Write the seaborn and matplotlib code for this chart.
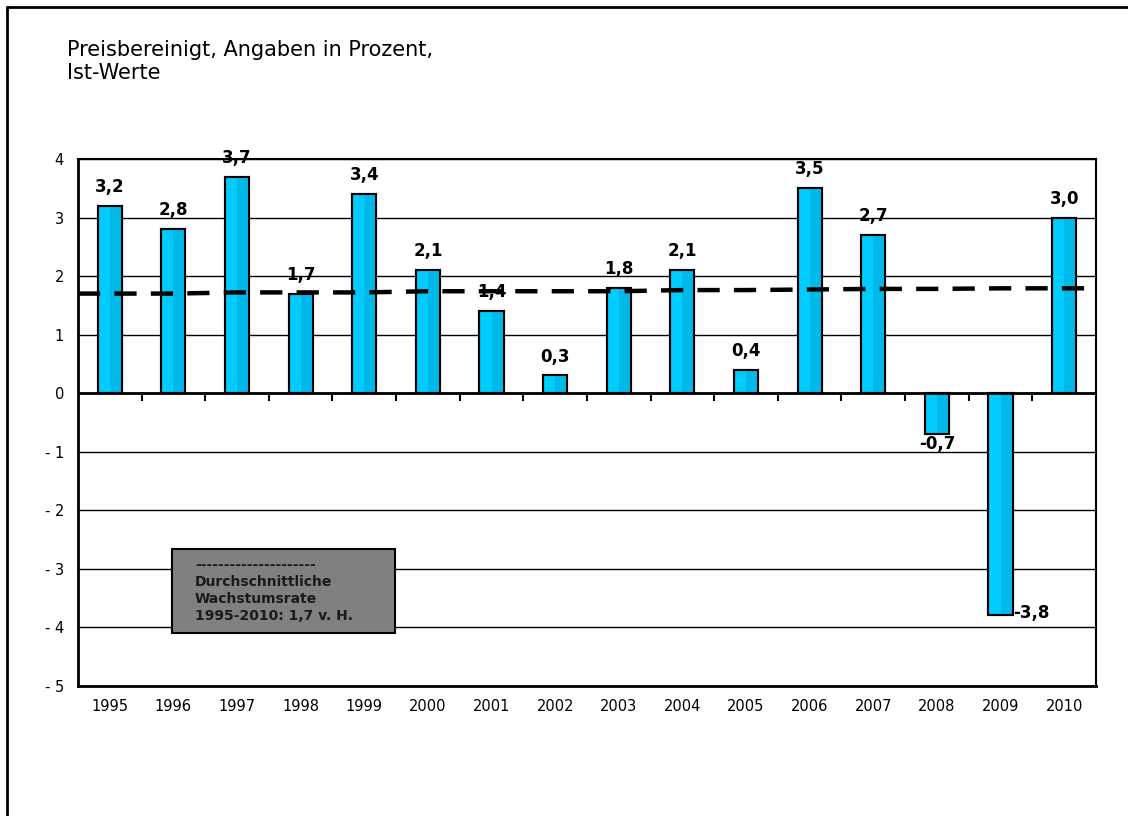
import numpy as np
import pandas as pd
import seaborn as sns
import matplotlib.pyplot as plt
from matplotlib.patches import Rectangle
from matplotlib.lines import Line2D

# Chart data
years = ['1995', '1996', '1997', '1998', '1999', '2000', '2001', '2002',
         '2003', '2004', '2005', '2006', '2007', '2008', '2009', '2010']
growth = [3.2, 2.8, 3.7, 1.7, 3.4, 2.1, 1.4, 0.3, 1.8, 2.1, 0.4, 3.5, 2.7, -0.7, -3.8, 3.0]
avg_trend = [1.70, 1.70, 1.72, 1.72, 1.72, 1.74, 1.74, 1.74, 1.74, 1.76, 1.76, 1.77,
             1.78, 1.78, 1.79, 1.79]
y_ticks = [4, 3, 2, 1, 0, -1, -2, -3, -4, -5]
y_tick_labels = ['4', '3', '2', '1', '0', '- 1', '- 2', '- 3', '- 4', '- 5']
title = 'Preisbereinigt, Angaben in Prozent,\nIst-Werte'
box_lines = ['---------------------', 'Durchschnittliche', 'Wachstumsrate',
             '1995-2010: 1,7 v. H.']

sns.set_style('white')
plt.rcParams['font.family'] = ['DejaVu Sans']
plt.rcParams['text.color'] = 'black'
plt.rcParams['xtick.color'] = 'black'
plt.rcParams['ytick.color'] = 'black'

fig = plt.figure(figsize=(11.28, 8.16), dpi=100)
ax = fig.add_axes([0.0691, 0.1599, 0.9025, 0.6452])

df = pd.DataFrame({'Jahr': years, 'Wert': growth})
sns.barplot(data=df, x='Jahr', y='Wert', color='#00CCFF', saturation=1, width=0.38,
            edgecolor='black', linewidth=1.5, ax=ax, zorder=3)

# darker right side of each bar (gradient look), then re-draw the outline
for p in list(ax.patches):
    x0, y0, w, h = p.get_x(), p.get_y(), p.get_width(), p.get_height()
    ax.add_patch(Rectangle((x0 + w * 0.5, y0), w * 0.5, h, facecolor='#00B9E8',
                           lw=0, zorder=3.1))
    ax.add_patch(Rectangle((x0, y0), w, h, facecolor='none', edgecolor='black',
                           lw=1.5, zorder=3.2))

# average growth trend (dashed)
xs = np.r_[-0.5, np.arange(len(years)), len(years) - 0.5]
ys = np.r_[avg_trend[0], avg_trend, avg_trend[-1]]
ax.plot(xs, ys, color='black', lw=3.2, dashes=(5, 3.2), zorder=5)

# value labels
for i, v in enumerate(growth):
    lab = f'{v:.1f}'.replace('.', ',')
    if v >= 0:
        ax.text(i, v + 0.17, lab, ha='center', va='bottom', fontsize=12, fontweight='bold', zorder=6)
    elif v > -1:
        ax.text(i, v - 0.02, lab, ha='center', va='top', fontsize=12, fontweight='bold', zorder=6)
    else:
        ax.text(i + 0.2, v + 0.04, lab, ha='left', va='center', fontsize=12, fontweight='bold', zorder=6)

ax.set_xlim(-0.5, len(years) - 0.5)
ax.set_ylim(-5, 4)
ax.set_yticks(y_ticks)
ax.set_yticklabels(y_tick_labels)
ax.set_xticks(range(len(years)))
ax.set_xticklabels(years)
ax.set_xticks(np.arange(-0.5, len(years)), minor=True)
ax.tick_params(axis='x', which='major', length=0, labelsize=10.5, pad=10)
ax.tick_params(axis='x', which='minor', length=7, width=1.5, direction='out')
ax.tick_params(axis='y', length=7, width=1.5, direction='out', labelsize=10.5, pad=3)
ax.set_xlabel('')
ax.set_ylabel('')

ax.set_axisbelow(True)
ax.yaxis.grid(True, color='black', lw=1)
ax.axhline(0, color='black', lw=2, zorder=4)
ax.vlines(np.arange(0.5, len(years)), -0.14, 0, color='black', lw=1.5, zorder=4)
for s in ax.spines.values():
    s.set_color('black')
    s.set_linewidth(1.5)
ax.spines['left'].set_linewidth(2)
ax.spines['bottom'].set_linewidth(2)

# info box
ax.add_patch(Rectangle((0.092, 0.0997), 0.219, 0.16, transform=ax.transAxes,
                       facecolor='#808080', edgecolor='black', lw=1.5, zorder=6))
ax.text(0.115, 0.243, '\n'.join(box_lines), transform=ax.transAxes, ha='left', va='top',
        fontsize=10, fontweight='bold', color='#1a1a1a', linespacing=1.28, zorder=7)

fig.text(0.0594, 1 - 40 / 816, title, ha='left', va='top', fontsize=15, linespacing=1.2)

# figure frame (left and top edges)
fig.add_artist(Line2D([0.0062, 0.0062], [0, 0.9914], transform=fig.transFigure, color='black', lw=2))
fig.add_artist(Line2D([0.0062, 1], [0.9914, 0.9914], transform=fig.transFigure, color='black', lw=2))

fig.savefig('out.png', dpi=100)
